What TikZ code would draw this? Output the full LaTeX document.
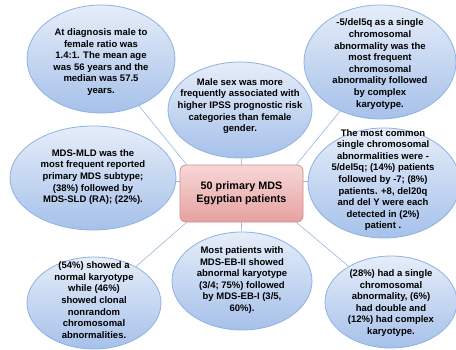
\documentclass[tikz,border=0pt]{standalone}
\usepackage{fontspec}
\setmainfont{Liberation Sans}
\usetikzlibrary{shapes.geometric,backgrounds}
\definecolor{bord}{HTML}{8DB3E2}
\definecolor{etop}{HTML}{E6EDF9}
\definecolor{ebot}{HTML}{A6C1EA}
\definecolor{btop}{HTML}{F7D8D7}
\definecolor{bbot}{HTML}{E6A1A0}
\definecolor{bbord}{HTML}{D58E8C}
\definecolor{linkc}{HTML}{9AB7DD}
\begin{document}
\begin{tikzpicture}[x=1pt,y=-1pt,
  bubble/.style={ellipse, draw=bord, line width=0.8pt, top color=etop, bottom color=ebot, inner sep=0pt},
  txt/.style={align=center, font=\bfseries\fontsize{9.5}{11.6}\selectfont, text=black, inner sep=0pt},
  hub/.style={rectangle, rounded corners=6pt, draw=bbord, line width=0.8pt, top color=btop, bottom color=bbot,
    minimum width=123pt, minimum height=57pt, align=center, font=\bfseries\fontsize{10.8}{13.3}\selectfont},
  link/.style={draw=linkc, line width=0.6pt}]
\useasboundingbox (0,0) rectangle (456,349);

\node[bubble, minimum width=148pt, minimum height=108pt] (e1) at (101,59) {};
\node[txt] (t1) at (101,62) {At diagnosis male to\\female ratio was\\1.4:1. The mean age\\was 56 years and the\\median was 57.5\\years.};

\node[bubble, minimum width=144pt, minimum height=96pt] (e2) at (240,110) {};
\node[txt] (t2) at (240,106) {Male sex was more\\frequently associated with\\higher IPSS prognostic risk\\categories than female\\gender.};

\node[bubble, minimum width=152pt, minimum height=114pt] (e3) at (380,62) {};
\node[txt] (t3) at (380,64) {-5/del5q as a single\\chromosomal\\abnormality was the\\most frequent\\chromosomal\\abnormality followed\\by complex\\karyotype.};

\node[bubble, minimum width=166pt, minimum height=104pt] (e4) at (93,178) {};
\node[txt] (t4) at (93,177) {MDS-MLD was the\\most frequent reported\\primary MDS subtype;\\(38\%) followed by\\MDS-SLD (RA); (22\%).};

\node[hub] (box) at (241.5,193.5) {50 primary MDS\\Egyptian patients};

\node[bubble, minimum width=152pt, minimum height=110pt] (e6) at (384,183) {};
\node[txt] (t6) at (383,180) {The most common\\single chromosomal\\abnormalities were -\\5/del5q; (14\%) patients\\followed by -7; (8\%)\\patients. +8, del20q\\and del Y were each\\detected in (2\%)\\patient .};

\node[bubble, minimum width=140pt, minimum height=98pt] (e7) at (242,281) {};
\node[txt] (t7) at (242,280) {Most patients with\\MDS-EB-II showed\\abnormal karyotype\\(3/4; 75\%) followed\\by MDS-EB-I (3/5,\\60\%).};

\node[bubble, minimum width=134pt, minimum height=92pt] (e8) at (94,303) {};
\node[txt] (t8) at (94,300) {(54\%) showed a\\normal karyotype\\while (46\%)\\showed clonal\\nonrandom\\chromosomal\\abnormalities.};

\node[bubble, minimum width=132pt, minimum height=92pt] (e9) at (391,302) {};
\node[txt] (t9) at (391,303) {(28\%) had a single\\chromosomal\\abnormality, (6\%)\\had double and\\(12\%) had complex\\karyotype.};

\begin{scope}[on background layer]
\fill[white] (0,0) rectangle (456,349);
\draw[link] ([xshift=7pt]box.north west) -- (e1);
\draw[link] (box.north) -- (e2);
\draw[link] ([xshift=-7pt]box.north east) -- (e3);
\draw[link] ([yshift=12pt]box.west) -- ([yshift=12pt]box.west -| e4.center);
\draw[link] ([yshift=12pt]box.east) -- ([yshift=12pt]box.east -| e6.center);
\draw[link] (box.south) -- (e7);
\draw[link] ([xshift=7pt]box.south west) -- (e8);
\draw[link] ([xshift=-7pt]box.south east) -- (e9);
\end{scope}
\end{tikzpicture}
\end{document}
